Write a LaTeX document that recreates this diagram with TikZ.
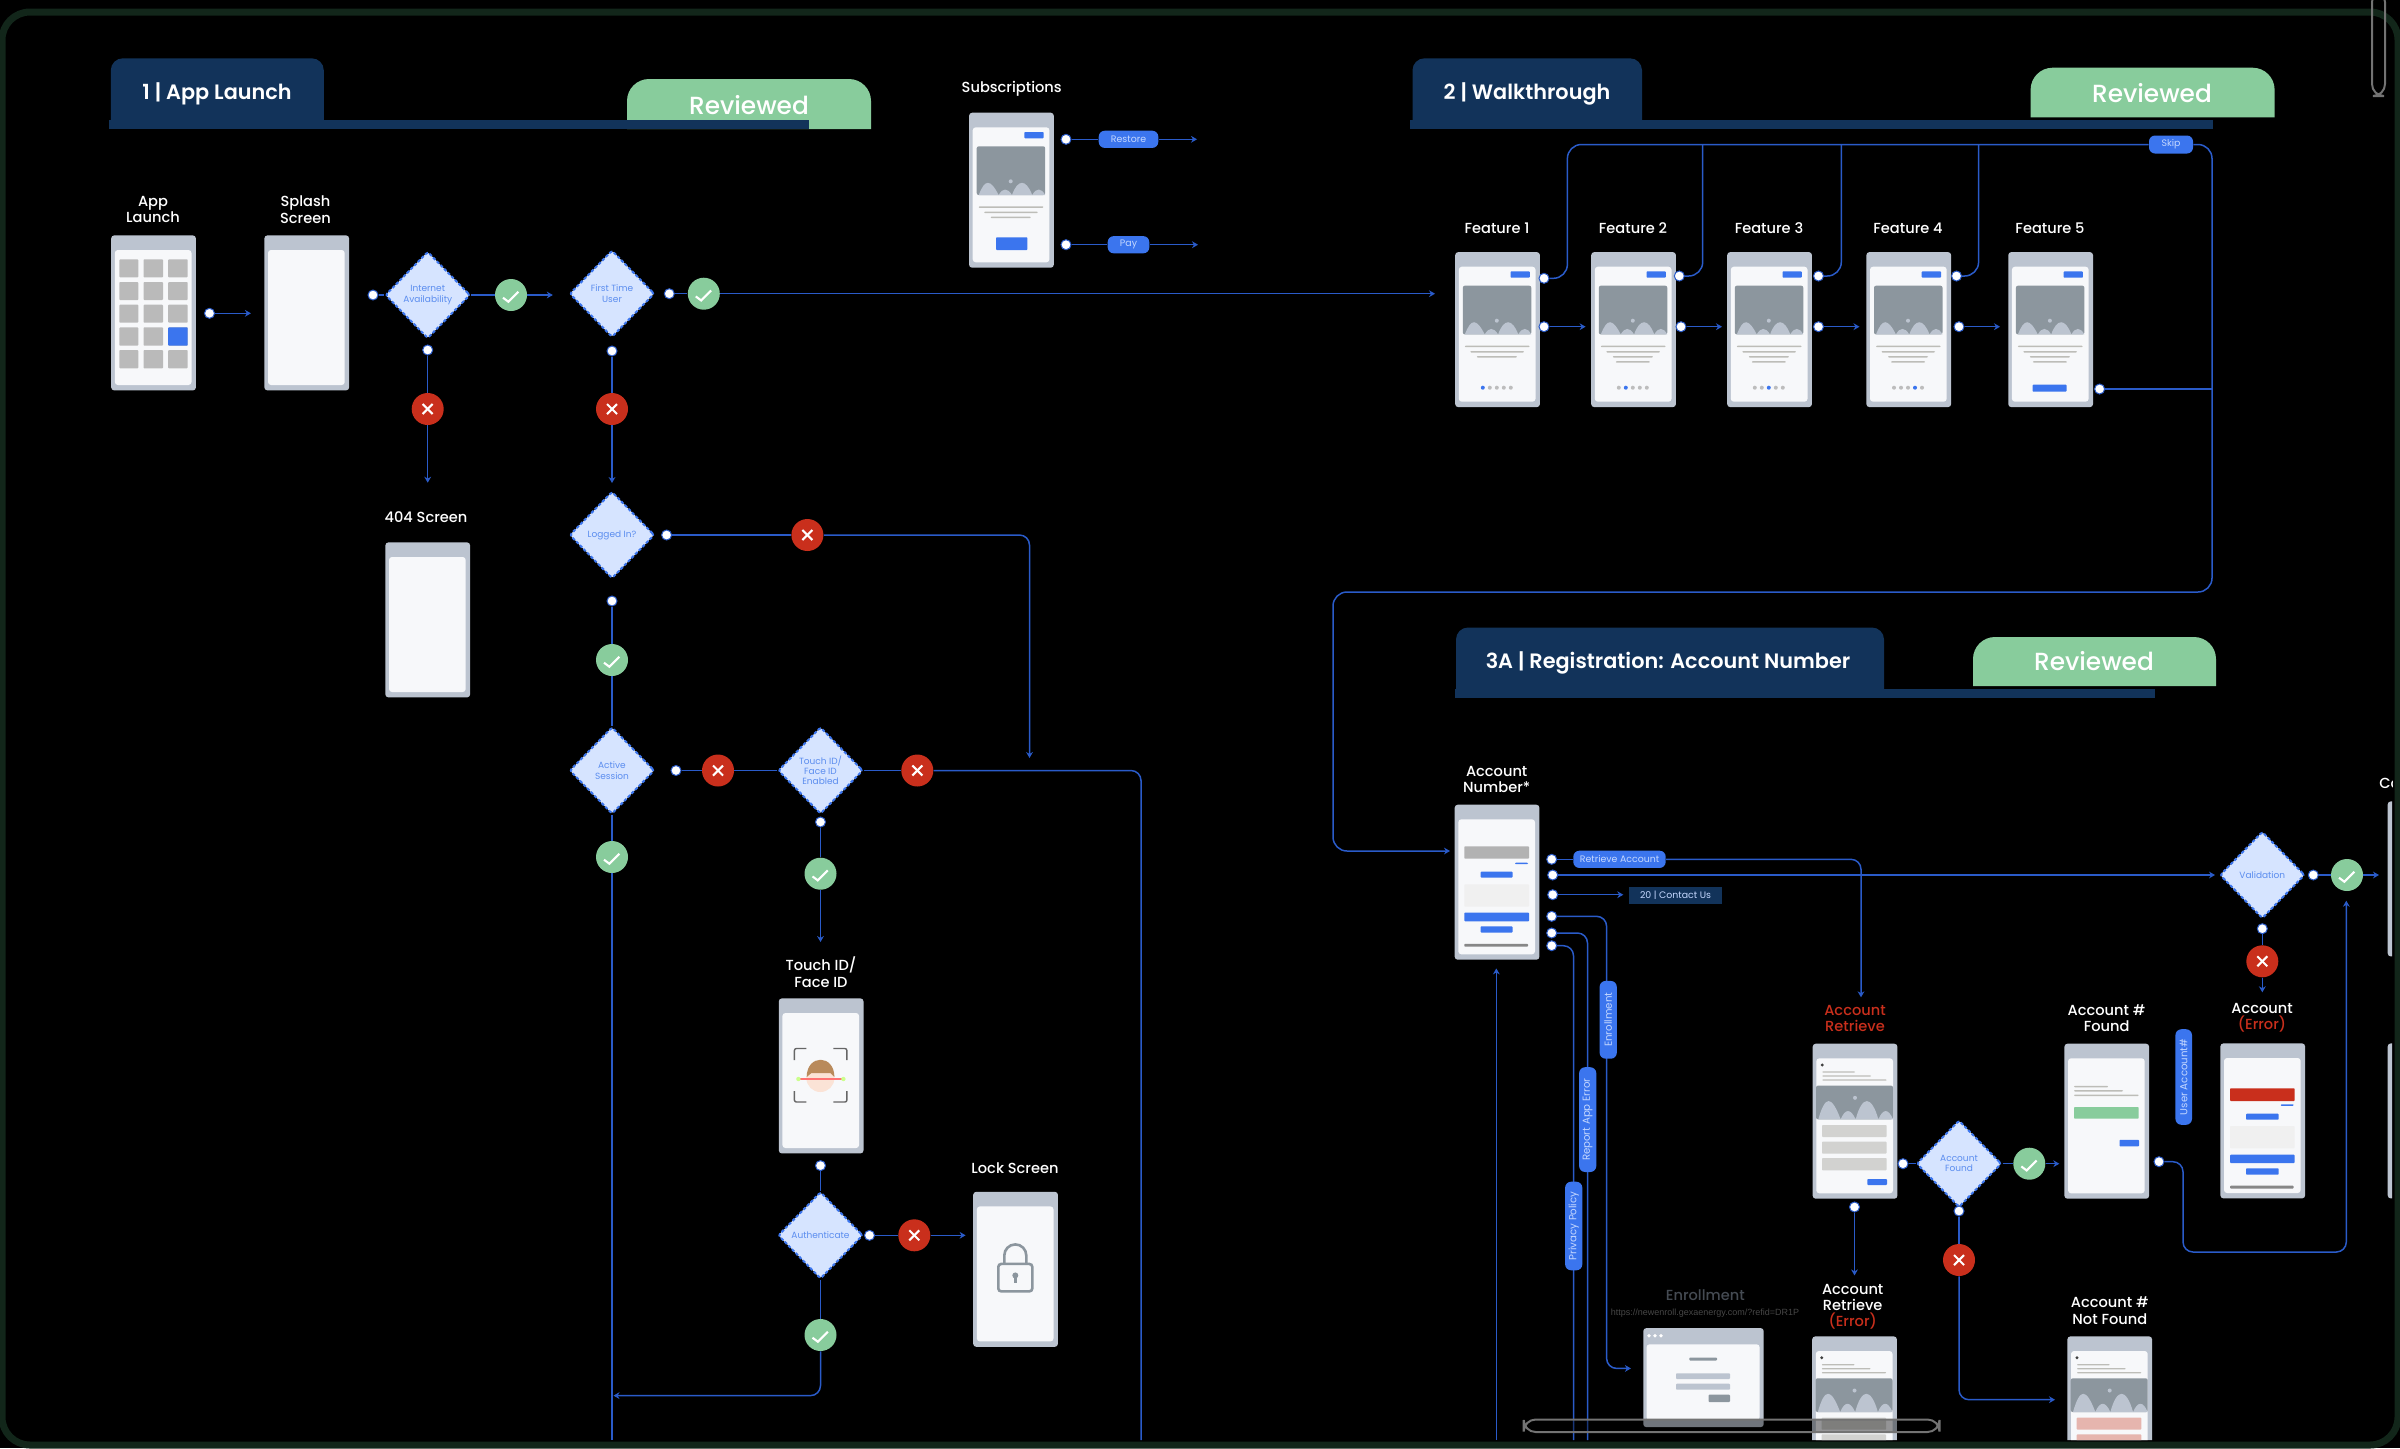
\documentclass[tikz,border=0pt]{standalone}
\usepackage{fontspec}
\setmainfont{Poppins}
\newfontfamily\medfont{Poppins Medium}
\newfontfamily\semifont{Poppins SemiBold}
\newfontfamily\urlfont{Liberation Sans}
\usetikzlibrary{arrows.meta,shapes.geometric}
\definecolor{linecol}{HTML}{2A5BC9}
\definecolor{btnblue}{HTML}{3B75EE}
\definecolor{pilltxt}{HTML}{C5D8FF}
\definecolor{framegray}{HTML}{BCC4D0}
\definecolor{innerbg}{HTML}{F7F8FA}
\definecolor{imggray}{HTML}{8C969E}
\definecolor{txtline}{HTML}{BDBDB8}
\definecolor{pagedot}{HTML}{BDBDBD}
\definecolor{navy}{HTML}{12335A}
\definecolor{okgreen}{HTML}{88CC9C}
\definecolor{errred}{HTML}{C92F1C}
\definecolor{decfill}{HTML}{D6E4FF}
\definecolor{dectext}{HTML}{5B8DEF}
\definecolor{inputgray}{HTML}{D2D2D0}
\definecolor{pinkin}{HTML}{E6B5AE}
\definecolor{edgegreen}{HTML}{12261A}
\definecolor{hair}{HTML}{B98A5B}
\definecolor{skin}{HTML}{FBE3D6}
\definecolor{enrgray}{HTML}{454B53}
\tikzset{
  flow/.style={draw=linecol,line width=.75pt},
  arr/.style={flow,-{Stealth[length=3pt,width=3.4pt]}},
  rc/.style={rounded corners=5pt},
  dotn/.style={circle,fill=white,draw=linecol,line width=.5pt,inner sep=0pt,minimum size=5pt},
  okc/.style={circle,fill=okgreen,inner sep=0pt,minimum size=16pt},
  noc/.style={circle,fill=errred,inner sep=0pt,minimum size=16pt},
  markline/.style={draw=white,line width=1.05pt},
  dec/.style={diamond,shape aspect=1,fill=decfill,draw=btnblue,line width=1pt,dash pattern=on 1.6pt off 1pt,rounded corners=1.2pt,minimum width=42.5pt,minimum height=43.5pt,inner sep=0pt},
  dectxt/.style={text=dectext,align=center,font=\fontsize{4.5}{5.1}\selectfont,draw=none,fill=none,inner sep=0pt},
  scrframe/.style={anchor=north west,fill=framegray,rounded corners=1.5pt,minimum width=42.35pt,minimum height=77.5pt,inner sep=0pt},
  scrinner/.style={fill=innerbg,rounded corners=1.5pt},
  lbl/.style={text=white,align=center,inner sep=0pt,yshift=-.3pt,font=\medfont\fontsize{7.3}{8.1}\selectfont},
  pill/.style={fill=btnblue,text=pilltxt,rounded corners=3pt,inner sep=0pt,minimum height=8.6pt,font=\fontsize{4.7}{5}\selectfont},
  vpill/.style={pill,rotate=90,font=\fontsize{5.1}{5.5}\selectfont},
  tabn/.style={anchor=center,text=white,inner sep=0pt,font=\semifont\fontsize{10.4}{12}\selectfont},
  revn/.style={anchor=center,text=white,inner sep=0pt,font=\medfont\fontsize{12.4}{14}\selectfont},
}
\newcommand\rbar[5]{\fill[#1,rounded corners=.4pt] (#2,#3) rectangle (#4,#5);}
\newcommand\scrn[4]{\node[scrframe] (#1) at (#2,#3) {};
  \begin{scope}[shift={(#2,#3)}]\fill[scrinner] (4,15) rectangle (80.7,150);#4\end{scope}}
\newcommand\hills[6]{% x y-bottom xscale yscale dotx doty
  \begin{scope}[shift={(#1,#2)},xscale=#3,yscale=#4]
    \fill[framegray] (3,0) .. controls (12,-133) and (20,-133) .. (32,0)
      .. controls (38,-60) and (45,-60) .. (51.5,0)
      .. controls (60,-133) and (72,-133) .. (81,0)
      .. controls (87,-60) and (94,-60) .. (100,0) -- cycle;
  \end{scope}
  \fill[framegray] (#5,#6) circle (2);}
\newcommand\featbody{\fill[imggray,rounded corners=1pt] (8,34) rectangle (76.5,82.7);
  \hills{8}{82.7}{.685}{.122}{42}{69}
  \rbar{txtline}{10}{94}{74.7}{95.5}\rbar{txtline}{15.5}{99.3}{69}{100.8}\rbar{txtline}{22}{104.3}{62}{105.8}}
\newcommand\topbtn{\rbar{btnblue}{55.7}{19.7}{75}{26}}
\newcommand\pager[1]{\foreach \k in {1,...,5}{\ifnum\k=#1 \def\dcol{btnblue}\else\def\dcol{pagedot}\fi
  \fill[\dcol] ({21+7*\k},136) circle (2);}}
\newcommand\retrbody[1]{\fill[black!75] (10,21.7) circle (1.6);
  \rbar{txtline}{10}{28}{42.7}{29.4}\rbar{txtline}{10}{32}{58.7}{33.4}\rbar{txtline}{10}{36}{74.3}{37.4}
  \fill[imggray,rounded corners=1pt] (3.7,42.3) rectangle (80.7,76);
  \hills{3.7}{76}{.77}{.183}{42.7}{54.5}
  \rbar{#1}{9.7}{81.7}{74.3}{93.7}\rbar{#1}{9.7}{98.3}{74.3}{110.3}\rbar{#1}{9.7}{114.7}{74.3}{127}
  \rbar{btnblue}{55}{135.7}{74.7}{141.7}}
\newcommand\okmark[3]{\node[okc] (#1) at (#2,#3) {};
  \draw[markline] ([shift={(-8,2.7)}]#1.center) -- ([shift={(-2.7,6.7)}]#1.center) -- ([shift={(7.3,-3.3)}]#1.center);}
\newcommand\nomark[3]{\node[noc] (#1) at (#2,#3) {};
  \draw[markline] ([shift={(-5,-5)}]#1.center) -- ([shift={(5,5)}]#1.center);
  \draw[markline] ([shift={(-5,5)}]#1.center) -- ([shift={(5,-5)}]#1.center);}
\newcommand\dotat[3]{\node[dotn] (#1) at (#2,#3) {};}
\newcommand\tabshape[4]{% x1 y1 x2 y2
  \fill[navy] (#1,#4) -- (#1,{#2+12}) arc (180:270:12) -- ({#3-12},#2) arc (270:360:12) -- (#3,#4) -- cycle;}
\newcommand\revshape[4]{\fill[okgreen] (#1,#4) -- (#1,{#2+22}) arc (180:270:22) -- ({#3-22},#2) arc (270:360:22) -- (#3,#4) -- cycle;}
\begin{document}
\begin{tikzpicture}[x=.5pt,y=-.5pt]
\fill[black] (0,0) rectangle (2400,1448);
\useasboundingbox (0,0) rectangle (2400,1448);
\begin{scope}
\clip[rounded corners=12pt] (0,14) rectangle (2392,1440);

% ---------- section headers
\revshape{627}{79}{871}{129}
\tabshape{110.8}{58.3}{323.8}{125}
\fill[navy] (108.5,120.3) rectangle (809.4,129);
\node[tabn] (t1) at (217,94) {1 | App Launch};
\node[revn] (r1) at (749,105) {Reviewed};

\revshape{2030.6}{67.7}{2274.6}{117.3}
\tabshape{1412.5}{58.3}{1642}{125}
\fill[navy] (1410,120.3) rectangle (2213.4,128.7);
\node[tabn] (t2) at (1527,94) {2 | Walkthrough};
\node[revn] (r2) at (2152,93) {Reviewed};

\revshape{1973}{637}{2216}{686}
\tabshape{1456}{627.5}{1884}{694}
\fill[navy] (1455,689) rectangle (2155,698);
\node[tabn] (t3) at (1668,663) {3A | Registration: Account Number};
\node[revn] (r3) at (2094,661) {Reviewed};

% ---------- screens: section 1
\node[lbl] (lApp) at (153,209) {App\\Launch};
\scrn{sApp}{110.8}{235}{%
  \foreach \c/\xa/\xb in {1/8.6/27.5,2/32.7/52.2,3/57.4/76.9}{%
    \foreach \r/\ya/\yb in {1/24.3/42.3,2/47/65,3/69.7/87.7,4/92.3/110.7,5/115/133.3}{%
      \fill[black!27,rounded corners=.4pt] (\xa,\ya) rectangle (\xb,\yb);}}
  \rbar{btnblue}{57.4}{92.3}{76.9}{110.7}}
\node[lbl] (lSpl) at (305.5,209) {Splash\\Screen};
\scrn{sSpl}{264}{235}{}
\node[lbl] (l404) at (426,517) {404 Screen};
\scrn{s404}{385}{542}{}
\node[lbl] (lTouch) at (821,971.5) {Touch ID/\\Face ID};
\scrn{sTouch}{778.4}{998}{%
  \fill[skin] (42,80) circle (14);
  \fill[hair] (28.3,79) .. controls (28.3,56) and (56,56) .. (56,79) -- (52,75) -- (33,75) -- cycle;
  \draw[red!55!white,line width=.8pt] (20,81) -- (65,81);
  \fill[green!45!yellow!45!white] (20,81) circle (2.2) (65,81) circle (2.2);
  \draw[black!60,line width=.7pt,rounded corners=1pt]
    (16,62) -- (16,50.5) -- (28,50.5) (55,50.5) -- (68.5,50.5) -- (68.5,62)
    (16,93) -- (16,104) -- (28,104) (55,104) -- (68.5,104) -- (68.5,93);}
\node[lbl] (lLock) at (1015,1167.6) {Lock Screen};
\scrn{sLock}{972.8}{1191.4}{%
  \draw[imggray,line width=1.3pt] (31.5,73) -- (31.5,64) arc (180:360:11) -- (53.5,73);
  \draw[imggray,line width=1.3pt,rounded corners=1.5pt] (25.5,72.5) rectangle (59.5,100);
  \fill[imggray] (42.5,84) circle (3);
  \draw[imggray,line width=1.3pt] (42.5,84) -- (42.5,92);}
\node[lbl] (lSub) at (1011.7,88.3) {Subscriptions};
\scrn{sSub}{968.7}{112.3}{\topbtn\featbody\rbar{btnblue}{27.3}{125}{58.7}{137.7}}

% ---------- screens: walkthrough
\node[lbl] (lF1) at (1497,228) {Feature 1};
\scrn{sF1}{1454.8}{251.7}{\topbtn\featbody\pager{1}}
\node[lbl] (lF2) at (1633,228) {Feature 2};
\scrn{sF2}{1590.8}{251.7}{\topbtn\featbody\rbar{txtline}{25}{109.5}{59}{111}\pager{2}}
\node[lbl] (lF3) at (1769,228) {Feature 3};
\scrn{sF3}{1726.8}{251.7}{\topbtn\featbody\rbar{txtline}{25}{109.5}{59}{111}\pager{3}}
\node[lbl] (lF4) at (1908,228) {Feature 4};
\scrn{sF4}{1866}{251.7}{\topbtn\featbody\rbar{txtline}{25}{109.5}{59}{111}\pager{4}}
\node[lbl] (lF5) at (2050,228) {Feature 5};
\scrn{sF5}{2007.9}{251.7}{\topbtn\featbody\rbar{txtline}{25}{109.5}{59}{111}\rbar{btnblue}{24.7}{133}{58.6}{140}}

% ---------- screens: registration
\node[lbl] (lAcc) at (1496.7,778.7) {Account\\Number*};
\scrn{sAcc}{1454.3}{804.3}{\rbar{black!30}{10}{42}{74.7}{54.3}\rbar{btnblue}{60.7}{58.4}{73.7}{59.8}\rbar{btnblue}{26.3}{67.3}{58.3}{73.3}
  \rbar{black!6}{10}{80}{74.7}{102.3}\rbar{btnblue}{10}{108.3}{74.7}{117}\rbar{btnblue}{26.3}{122}{58.3}{128.3}
  \rbar{black!47}{10}{139.5}{73.7}{142.3}}
\node[lbl] (lRet) at (1855,1017.5) {\textcolor{errred}{Account}\\\textcolor{errred}{Retrieve}};
\scrn{sRet}{1812.3}{1043.3}{\retrbody{inputgray}}
\node[lbl] (lFound) at (2106.6,1017.5) {Account \#\\Found};
\scrn{sFound}{2064}{1043.3}{\rbar{txtline}{10}{42.5}{44}{44}\rbar{txtline}{10}{46.7}{59}{48.2}\rbar{txtline}{10}{51.2}{74.6}{52.7}
  \rbar{okgreen}{10}{63.7}{74.6}{75.4}\rbar{btnblue}{55.5}{96.6}{75}{103}}
\node[lbl] (lErr) at (2262,1017.5) {Account\\\textcolor{errred}{(Error)}};
\scrn{sErr}{2220}{1043}{\rbar{errred}{10}{45.3}{74.7}{58}\rbar{btnblue}{60.7}{61.4}{73.7}{62.8}\rbar{btnblue}{26}{70.7}{58.7}{76.7}
  \rbar{black!6}{10}{83}{74.7}{105.3}\rbar{btnblue}{10}{111.7}{74.7}{120}\rbar{btnblue}{26}{125.3}{58.7}{131.7}
  \rbar{black!47}{10}{142.7}{73.7}{145.5}}
\node[lbl] (lRE) at (1852.7,1306) {Account\\Retrieve\\\textcolor{errred}{(Error)}};
\scrn{sRE}{1811.8}{1336}{\retrbody{inputgray}}
\node[lbl] (lNF) at (2109.8,1310) {Account \#\\Not Found};
\scrn{sNF}{2067}{1336}{\retrbody{pinkin}}
\node[lbl,text=enrgray] (lEnr) at (1705.3,1295) {Enrollment};
\node[inner sep=0pt,text=black!72,font=\urlfont\fontsize{4.5}{5}\selectfont] (lUrl) at (1705,1313) {https://newenroll.gexaenergy.com/?refid=DR1P};
\node[anchor=north west,fill=framegray,rounded corners=1.5pt,minimum width=60.2pt,minimum height=49.5pt,inner sep=0pt] (sBrowser) at (1642.9,1327.7) {};
\fill[scrinner] (1646.5,1344.3) rectangle (1759.6,1420);
\fill[white] (1649,1335.7) circle (1.8) (1655,1335.7) circle (1.8) (1661,1335.7) circle (1.8);
\rbar{imggray}{1689.4}{1357.5}{1717}{1360.5}
\rbar{framegray}{1676}{1373.3}{1730}{1379}
\rbar{framegray}{1676}{1383.7}{1730}{1389.7}
\rbar{imggray}{1708.6}{1394.7}{1730}{1402}
% partial screens at the right edge
\node[lbl,anchor=west] (lCo) at (2379,783) {Co};
\node[scrframe] (sCut1) at (2387.3,801) {};
\node[scrframe] (sCut2) at (2387.3,1043) {};

% ---------- decisions
\node[dec,label={[dectxt]center:Internet\\Availability}] (dInt) at (427.7,295) {};
\node[dec,label={[dectxt]center:First Time\\User}] (dFirst) at (612,293.7) {};
\node[dec,label={[dectxt]center:Logged In?}] (dLog) at (612,535) {};
\node[dec,label={[dectxt]center:Active\\Session}] (dAct) at (612,770.5) {};
\node[dec,label={[dectxt]center:Touch ID/\\Face ID\\Enabled}] (dTouch) at (820.5,770.5) {};
\node[dec,label={[dectxt]center:Authenticate}] (dAuth) at (820.5,1235.3) {};
\node[dec,label={[dectxt]center:Validation}] (dVal) at (2262.3,875) {};
\node[dec,label={[dectxt]center:Account\\Found}] (dFound) at (1959,1163.7) {};

% ---------- dots
\dotat{pApp}{209.5}{313.3}
\dotat{pInt}{373}{295}
\dotat{pInt2}{427.7}{350}
\dotat{pFirst}{669.3}{293.7}
\dotat{pFirst2}{612}{351}
\dotat{pLog}{666.6}{535}
\dotat{pLog2}{612}{601}
\dotat{pAct}{676}{770.5}
\dotat{pTouch}{820.5}{822}
\dotat{pFace}{820.5}{1165.6}
\dotat{pAuth}{869.5}{1235.3}
\dotat{pRestore}{1066}{139.3}
\dotat{pPay}{1066}{244.7}
\dotat{pF1a}{1544}{278.3}\dotat{pF2a}{1679.3}{276}\dotat{pF3a}{1818.5}{276}\dotat{pF4a}{1956.5}{276}
\dotat{pF1b}{1544}{326.7}\dotat{pF2b}{1681}{326.7}\dotat{pF3b}{1818.5}{326.7}\dotat{pF4b}{1959}{326.7}
\dotat{pF5}{2099.6}{389}
\dotat{pA1}{1551.7}{859.3}\dotat{pA2}{1552.7}{875}\dotat{pA3}{1552.7}{894.7}
\dotat{pA4}{1551.7}{916.3}\dotat{pA5}{1551.7}{933}\dotat{pA6}{1551.7}{945.7}
\dotat{pVal}{2313.3}{875}\dotat{pVal2}{2262.3}{928.7}
\dotat{pRet}{1903}{1163.7}\dotat{pRet2}{1854.5}{1207}
\dotat{pFd2}{1959}{1211}\dotat{pFound}{2159}{1161.7}

% ---------- outcome marks
\okmark{okInt}{511}{295}
\okmark{okFirst}{703.8}{293.7}
\nomark{noInt}{427.7}{409}
\nomark{noFirst}{612}{409}
\nomark{noLog}{807.4}{535}
\okmark{okLog}{612}{660}
\nomark{noAct}{718}{770.5}
\nomark{noTouch}{917.3}{770.5}
\okmark{okAct}{612}{857}
\okmark{okTouch}{820.5}{873.7}
\nomark{noAuth}{914.3}{1235.3}
\okmark{okAuth}{820.5}{1335}
\okmark{okVal}{2347}{875}
\nomark{noVal}{2262.3}{961.3}
\okmark{okFd}{2029.3}{1163.7}
\nomark{noFd}{1959}{1260}

% ---------- free ends and bends
\coordinate (eApp) at (250.9,313.3);
\coordinate (eInt) at (552.8,295);
\coordinate (eInt2) at (427.7,482.7);
\coordinate (eFirst2) at (612,483);
\coordinate (eF1in) at (1435,293.7);
\coordinate (bLog) at (1029.5,535);
\coordinate (eLog) at (1029.5,758);
\coordinate (eAct) at (612,1440);
\coordinate (bTouch) at (1141,770.5);
\coordinate (eTouch) at (1141,1440);
\coordinate (eTouch2) at (820.5,942);
\coordinate (eAuth) at (965.6,1235.3);
\coordinate (bAuth) at (820.5,1395.6);
\coordinate (eAuth2) at (613.5,1395.6);
\coordinate (eRestore) at (1197,139.3);
\coordinate (ePay) at (1198,244.7);
\coordinate (e1b) at (1585.6,326.7);
\coordinate (e2b) at (1722,326.7);
\coordinate (e3b) at (1859.5,326.7);
\coordinate (e4b) at (2000,326.7);
\coordinate (tA) at (1567.4,144.5);
\coordinate (tB) at (1702.7,144.5);
\coordinate (tC) at (1841.3,144.5);
\coordinate (tD) at (1978.6,144.5);
\coordinate (rA) at (2212,144.5);
\coordinate (rJ) at (2212,389);
\coordinate (rB) at (2212,592);
\coordinate (rC) at (1333,592);
\coordinate (rD) at (1333,851);
\coordinate (eAcc) at (1450,851);
\coordinate (bRetr) at (1861,859.3);
\coordinate (eRetr) at (1861,997.3);
\coordinate (eA2) at (2215,875);
\coordinate (eA3) at (1623.3,894.7);
\coordinate (bA4) at (1606.6,916.3);
\coordinate (cA4) at (1606.6,1368.4);
\coordinate (eA4) at (1630.9,1368.4);
\coordinate (bA5) at (1587.5,933);
\coordinate (eA5) at (1587.5,1440);
\coordinate (bA6) at (1573.5,945.7);
\coordinate (eA6) at (1573.5,1440);
\coordinate (sUp) at (1496.3,1440);
\coordinate (eUp) at (1496.3,968.4);
\coordinate (eVal) at (2379,875);
\coordinate (eVal2) at (2262.3,992.3);
\coordinate (eRet2) at (1854.5,1275.4);
\coordinate (eFd) at (2059.3,1163.7);
\coordinate (bFd) at (1959,1399.7);
\coordinate (eFd2) at (2055,1399.7);
\coordinate (bF1) at (2183,1161.7);
\coordinate (bF2) at (2183,1252);
\coordinate (bF3) at (2346.3,1252);
\coordinate (eF3) at (2346.3,900.7);

% ---------- pills that sit on lines
\node[pill,minimum width=29.8pt] (pRes) at (1128.5,139.3) {Restore};
\node[pill,minimum width=20.8pt] (pP) at (1128.5,244.7) {Pay};
\node[pill,minimum width=22pt,minimum height=9pt] (pSkip) at (2171,144.5) {Skip};
\node[pill,minimum width=46.2pt] (pRetr) at (1619.5,859.3) {Retrieve Account};
\node[fill=navy,text=pilltxt,minimum width=46.5pt,minimum height=8.7pt,inner sep=0pt,font=\fontsize{4.7}{5}\selectfont] (bContact) at (1675.5,895.6) {20 | Contact Us};

% ---------- connectors section 1
\draw[arr] (pApp) -- (eApp);
\draw[flow] (pInt) -- (dInt);
\draw[flow] (dInt) -- (okInt);
\draw[arr] (okInt) -- (eInt);
\draw[flow] (pInt2) -- (noInt);
\draw[arr] (noInt) -- (eInt2);
\draw[flow] (pFirst) -- (okFirst);
\draw[arr] (okFirst) -- (eF1in);
\draw[flow] (pFirst2) -- (noFirst);
\draw[arr] (noFirst) -- (eFirst2);
\draw[flow] (pLog) -- (noLog);
\draw[arr,rc] (noLog) -- (bLog) -- (eLog);
\draw[flow] (pLog2) -- (okLog);
\draw[flow] (okLog) -- (dAct);
\draw[flow] (dAct) -- (okAct);
\draw[flow] (okAct) -- (eAct);
\draw[flow] (pAct) -- (noAct);
\draw[flow] (noAct) -- (dTouch);
\draw[flow] (dTouch) -- (noTouch);
\draw[flow,rc] (noTouch) -- (bTouch) -- (eTouch);
\draw[flow] (pTouch) -- (okTouch);
\draw[arr] (okTouch) -- (eTouch2);
\draw[flow] (pFace) -- (dAuth);
\draw[flow] (pAuth) -- (noAuth);
\draw[arr] (noAuth) -- (eAuth);
\draw[flow] (dAuth) -- (okAuth);
\draw[arr,rc] (okAuth) -- (bAuth) -- (eAuth2);
\draw[flow] (pRestore) -- (pRes);
\draw[arr] (pRes) -- (eRestore);
\draw[flow] (pPay) -- (pP);
\draw[arr] (pP) -- (ePay);

% ---------- connectors walkthrough
\draw[arr] (pF1b) -- (e1b);
\draw[arr] (pF2b) -- (e2b);
\draw[arr] (pF3b) -- (e3b);
\draw[arr] (pF4b) -- (e4b);
\draw[flow,rounded corners=7pt] (pF1a) -| (tA) -- (pSkip);
\draw[flow,rounded corners=7pt] (pF2a) -| (tB);
\draw[flow,rounded corners=7pt] (pF3a) -| (tC);
\draw[flow,rounded corners=7pt] (pF4a) -| (tD);
\draw[flow] (pF5) -- (rJ);
\draw[arr,rounded corners=7pt] (pSkip) -- (rA) -- (rB) -- (rC) -- (rD) -- (eAcc);

% ---------- connectors registration
\draw[flow] (pA1) -- (pRetr);
\draw[arr,rc] (pRetr) -- (bRetr) -- (eRetr);
\draw[arr] (pA2) -- (eA2);
\draw[arr] (pA3) -- (eA3);
\draw[arr,rc] (pA4) -- (bA4) -- (cA4) -- (eA4);
\draw[flow,rc] (pA5) -- (bA5) -- (eA5);
\draw[flow,rc] (pA6) -- (bA6) -- (eA6);
\draw[arr] (sUp) -- (eUp);
\draw[flow] (pVal) -- (okVal);
\draw[arr] (okVal) -- (eVal);
\draw[flow] (pVal2) -- (noVal);
\draw[arr] (noVal) -- (eVal2);
\draw[flow] (pRet) -- (dFound);
\draw[flow] (dFound) -- (okFd);
\draw[arr] (okFd) -- (eFd);
\draw[arr] (pRet2) -- (eRet2);
\draw[flow] (pFd2) -- (noFd);
\draw[arr,rc] (noFd) -- (bFd) -- (eFd2);
\draw[arr,rc] (pFound) -- (bF1) -- (bF2) -- (bF3) -- (eF3);

% ---------- vertical pills above their lines
\node[vpill,minimum width=38.9pt] (vEnr) at (1608.2,1019.8) {Enrollment};
\node[vpill,minimum width=52.4pt] (vRep) at (1587.7,1119.6) {Report App Error};
\node[vpill,minimum width=44.3pt] (vPri) at (1573.7,1226) {Privacy Policy};
\node[vpill,minimum width=47.8pt,minimum height=8.3pt] (vUser) at (2183.7,1077) {User Account\#};
\end{scope}

% ---------- window edge and scroll bars
\draw[edgegreen,line width=3.5pt,rounded corners=14pt] (2,12) rectangle (2398,1445);
\draw[black!55,line width=1pt,fill=black,fill opacity=.4,rounded corners=6pt] (1523.7,1419.5) rectangle (1939.5,1432);
\draw[black!55,line width=1pt,rounded corners=6pt] (2372,-10) rectangle (2385,96);
\end{tikzpicture}
\end{document}
